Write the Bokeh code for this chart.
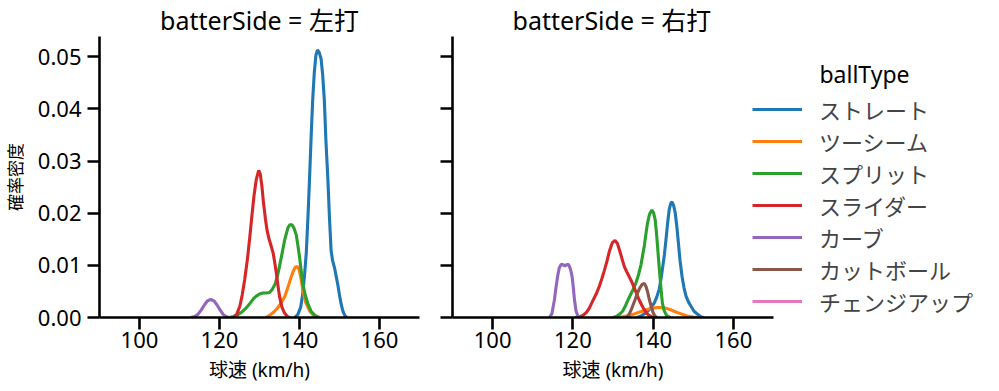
from bokeh.plotting import figure
from bokeh.layouts import row
from bokeh.models import Range1d, FixedTicker, PrintfTickFormatter, Legend, LegendItem, Label, LinearAxis
from bokeh.embed import file_html
from bokeh.resources import INLINE

FONT = "Noto Sans, Noto Sans CJK JP"

ball_types = ["ストレート", "ツーシーム", "スプリット", "スライダー", "カーブ", "カットボール", "チェンジアップ"]
colors = ["#1f77b4", "#ff7f0e", "#2ca02c", "#d62728", "#9467bd", "#8c564b", "#e377c2"]
panel_titles = ["batterSide = 左打", "batterSide = 右打"]
legend_title = "ballType"
x_label = "球速 (km/h)"
y_label = "確率密度"
x_ticks = [100, 120, 140, 160]
y_ticks = [0.0, 0.01, 0.02, 0.03, 0.04, 0.05]

# ---- 左打 panel (speed km/h, density) ----
L_straight_v = [138.8, 139.6, 140.3, 140.8, 141.3, 141.7, 142.1, 142.5, 142.9, 143.3, 143.7, 144.1, 144.5, 144.9, 145.4, 145.8, 146.2, 146.6, 147.1, 147.5, 147.9, 148.3, 148.8, 149.2, 149.6, 150.0, 150.4, 150.9, 151.4, 151.9]
L_straight_d = [0.0, 0.0006, 0.0020, 0.0045, 0.0085, 0.0125, 0.019, 0.0264, 0.0345, 0.0418, 0.047, 0.0503, 0.0513, 0.0509, 0.0496, 0.0465, 0.0418, 0.034, 0.0264, 0.019, 0.0128, 0.0108, 0.0094, 0.0078, 0.0062, 0.0043, 0.0026, 0.0011, 0.0003, 0.0]

L_two_v = [131.5, 132.5, 133.5, 134.5, 135.4, 136.3, 137.1, 137.8, 138.4, 138.9, 139.4, 139.9, 140.4, 140.8, 141.5, 142.5, 143.5, 145.0]
L_two_d = [0.0, 0.0004, 0.001, 0.0018, 0.0028, 0.0040, 0.0058, 0.0075, 0.0088, 0.0096, 0.0098, 0.0092, 0.0074, 0.0054, 0.0030, 0.0013, 0.0004, 0.0]

L_split_v = [122.5, 123.5, 124.5, 125.5, 126.5, 127.6, 128.5, 129.2, 130.0, 130.9, 131.7, 132.5, 133.2, 133.9, 134.5, 135.0, 135.7, 136.3, 137.1, 137.6, 138.1, 138.6, 139.2, 139.6, 140.0, 140.4, 140.8, 141.4, 142.1, 142.9, 143.7, 144.5, 145.0]
L_split_d = [0.0, 0.0002, 0.0005, 0.001, 0.0017, 0.0027, 0.0036, 0.0041, 0.0045, 0.0047, 0.0047, 0.0048, 0.0054, 0.0064, 0.008, 0.0098, 0.0125, 0.0149, 0.0172, 0.0178, 0.0178, 0.0172, 0.0158, 0.0138, 0.0117, 0.0091, 0.0066, 0.0044, 0.0026, 0.0012, 0.0005, 0.0001, 0.0]

L_slider_v = [123.5, 124.3, 125.1, 125.7, 126.3, 127.0, 127.6, 128.1, 128.6, 129.2, 129.8, 130.2, 130.6, 131.0, 131.5, 131.9, 132.3, 132.8, 133.4, 133.8, 134.2, 134.6, 135.0, 135.6, 136.3, 137.1, 137.8]
L_slider_d = [0.0, 0.0006, 0.0022, 0.0044, 0.0073, 0.0113, 0.0156, 0.0195, 0.0232, 0.0265, 0.0282, 0.0275, 0.0252, 0.022, 0.0188, 0.0167, 0.0153, 0.014, 0.0124, 0.0106, 0.0086, 0.0062, 0.0041, 0.002, 0.0008, 0.0001, 0.0]

L_curve_v = [112.8, 113.8, 114.6, 115.5, 116.3, 117.0, 117.8, 118.6, 119.3, 120.1, 120.9, 121.6, 122.4]
L_curve_d = [0.0, 0.0002, 0.0006, 0.0015, 0.0025, 0.0032, 0.00345, 0.0032, 0.0025, 0.0015, 0.0006, 0.0002, 0.0]

# ---- 右打 panel ----
R_straight_v = [136.0, 137.0, 138.2, 139.3, 140.3, 140.9, 141.5, 141.9, 142.3, 142.8, 143.2, 143.6, 144.0, 144.4, 144.7, 145.1, 145.5, 145.9, 146.3, 146.7, 147.2, 147.7, 148.2, 148.8, 149.4, 150.2, 151.1, 152.0, 152.6]
R_straight_d = [0.0, 0.0003, 0.0009, 0.0017, 0.0028, 0.0039, 0.0054, 0.0071, 0.0092, 0.0120, 0.0149, 0.0180, 0.0207, 0.0219, 0.0222, 0.0215, 0.0201, 0.0175, 0.0143, 0.0110, 0.0079, 0.0057, 0.0041, 0.003, 0.0022, 0.0012, 0.0006, 0.0001, 0.0]

R_two_v = [130.5, 132.0, 133.5, 135.0, 136.5, 138.0, 139.5, 141.0, 142.5, 144.0, 145.5, 147.0, 148.5, 150.0, 151.0]
R_two_d = [0.0, 0.0001, 0.0003, 0.0006, 0.001, 0.0014, 0.0018, 0.0019, 0.0019, 0.0016, 0.0011, 0.0007, 0.0003, 0.0001, 0.0]

R_split_v = [130.0, 130.8, 131.6, 132.4, 133.2, 134.0, 134.9, 135.7, 136.4, 137.0, 137.4, 137.8, 138.2, 138.6, 139.1, 139.7, 140.1, 140.5, 140.8, 141.1, 141.4, 141.7, 142.0, 142.3, 142.7, 143.2, 143.7, 144.3]
R_split_d = [0.0, 0.0002, 0.0006, 0.0012, 0.0024, 0.0038, 0.0052, 0.0066, 0.0083, 0.0102, 0.012, 0.0137, 0.0160, 0.0181, 0.0198, 0.0206, 0.0201, 0.0188, 0.0165, 0.0137, 0.0107, 0.0079, 0.0052, 0.0028, 0.0014, 0.0006, 0.0002, 0.0]

R_slider_v = [120.5, 121.5, 122.5, 123.3, 124.1, 124.9, 125.8, 126.6, 127.2, 127.8, 128.5, 129.1, 129.8, 130.5, 131.1, 131.6, 132.2, 132.8, 133.4, 134.0, 134.7, 135.3, 135.9, 136.5, 137.2, 137.8, 138.4, 139.0, 139.7, 140.4]
R_slider_d = [0.0, 0.0001, 0.0004, 0.0009, 0.0018, 0.0031, 0.0045, 0.006, 0.0074, 0.0089, 0.0108, 0.0127, 0.0143, 0.0148, 0.0142, 0.013, 0.0114, 0.0098, 0.0088, 0.0079, 0.0068, 0.0057, 0.0045, 0.0034, 0.0023, 0.0015, 0.0008, 0.0004, 0.0001, 0.0]

R_curve_v = [114.2, 114.8, 115.4, 115.8, 116.2, 116.6, 117.1, 117.6, 118.0, 118.4, 118.9, 119.4, 119.8, 120.1, 120.4, 120.8, 121.3, 121.8]
R_curve_d = [0.0, 0.0008, 0.0034, 0.0058, 0.0079, 0.0095, 0.0102, 0.0101, 0.0099, 0.0101, 0.0102, 0.0093, 0.0079, 0.0058, 0.0034, 0.0012, 0.0002, 0.0]

R_cut_v = [133.3, 134.0, 134.5, 134.9, 135.5, 136.1, 136.7, 137.3, 137.8, 138.2, 138.6, 139.0, 139.5, 140.0, 140.5, 141.0]
R_cut_d = [0.0, 0.0006, 0.0014, 0.0022, 0.0034, 0.0047, 0.0057, 0.0064, 0.0065, 0.006, 0.005, 0.0036, 0.0022, 0.0009, 0.0002, 0.0]

# チェンジアップ: too few pitches for a density curve (no line drawn)
R_change_v = [float("nan")]
R_change_d = [float("nan")]

left_series = [(L_straight_v, L_straight_d), (L_two_v, L_two_d), (L_split_v, L_split_d),
               (L_slider_v, L_slider_d), (L_curve_v, L_curve_d), ([], []), ([], [])]
right_series = [(R_straight_v, R_straight_d), (R_two_v, R_two_d), (R_split_v, R_split_d),
                (R_slider_v, R_slider_d), (R_curve_v, R_curve_d), (R_cut_v, R_cut_d),
                (R_change_v, R_change_d)]

X_MIN, X_MAX = 90, 170
Y_MAX = 0.0539
PX_PER_UNIT = 321 / (X_MAX - X_MIN)
R_FRAME_W = 532
R_X_END = X_MIN + R_FRAME_W / PX_PER_UNIT


def style(p, show_ylabels):
    p.title.text_font = FONT
    p.title.text_font_size = "25px"
    p.title.text_font_style = "normal"
    p.title.text_color = "black"
    p.title.standoff = 0
    p.grid.visible = False
    p.outline_line_color = None
    for ax in (p.xaxis[0], p.yaxis[0]):
        ax.axis_line_width = 2.6
        ax.axis_line_color = "black"
        ax.major_tick_line_width = 2.6
        ax.major_tick_line_color = "black"
        ax.major_tick_out = 12
        ax.major_tick_in = 0
        ax.minor_tick_out = 0
        ax.minor_tick_in = 0
        ax.major_label_text_font = FONT
        ax.major_label_text_font_size = "22px"
        ax.major_label_text_color = "black"
        ax.axis_label_text_font = FONT
        ax.axis_label_text_font_size = "17px"
        ax.axis_label_text_font_style = "normal"
        ax.axis_label_text_color = "black"
    p.xaxis.ticker = FixedTicker(ticks=x_ticks)
    p.yaxis.ticker = FixedTicker(ticks=y_ticks)
    p.yaxis.formatter = PrintfTickFormatter(format="%.2f")
    p.xaxis.major_label_standoff = 2
    p.yaxis.major_label_standoff = 6
    p.yaxis.axis_label_standoff = 8
    p.xaxis.bounds = (X_MIN, X_MAX)
    # x-axis title drawn as a centred label of an extra, line-less axis
    centre = (X_MIN + X_MAX) / 2
    lab_axis = LinearAxis(ticker=FixedTicker(ticks=[centre]),
                          major_label_overrides={centre: x_label},
                          axis_line_color=None, major_tick_line_color=None,
                          minor_tick_line_color=None, major_tick_out=0, major_tick_in=0,
                          major_label_standoff=6,
                          major_label_text_font=FONT, major_label_text_font_size="19px",
                          major_label_text_color="black")
    p.add_layout(lab_axis, "below")
    if show_ylabels:
        p.yaxis.axis_label = y_label
    else:
        # shared y axis: ticks only, labels not drawn
        p.yaxis.major_label_text_font_size = "1px"
        p.yaxis.major_label_text_color = None
        p.yaxis.major_label_standoff = 0


p1 = figure(frame_width=320, frame_height=281, x_range=Range1d(X_MIN, X_MAX), y_range=Range1d(0, Y_MAX),
            min_border_left=92, min_border_right=5, min_border_top=29, min_border_bottom=10,
            toolbar_location=None, output_backend="svg", title=panel_titles[0])
style(p1, True)
p1.title.align = "center"
for (v, d), c in zip(left_series, colors):
    if v:
        p1.line(v, d, line_color=c, line_width=3.1)

p2 = figure(frame_width=R_FRAME_W, frame_height=281, x_range=Range1d(X_MIN, R_X_END), y_range=p1.y_range,
            min_border_left=28, min_border_right=3, min_border_top=29, min_border_bottom=10,
            toolbar_location=None, output_backend="svg", title=panel_titles[1])
style(p2, False)
p2.title.align = "left"
p2.title.offset = 60
items = []
for (v, d), c, name in zip(right_series, colors, ball_types):
    r = p2.line(v, d, line_color=c, line_width=3.1)
    items.append(LegendItem(label=name, renderers=[r]))

legend = Legend(items=items, location=(300, 0))
legend.label_text_font = FONT
legend.label_text_font_size = "22px"
legend.glyph_width = 50
legend.glyph_height = 32
legend.label_height = 32
legend.label_standoff = 17
legend.spacing = 0
legend.padding = 0
legend.margin = 0
legend.border_line_color = None
legend.background_fill_alpha = 0
p2.add_layout(legend)

p2.add_layout(Label(x=X_MIN + 412 / PX_PER_UNIT, y=0.0468, text=legend_title,
                    text_align="center", text_baseline="middle",
                    text_font=FONT, text_font_size="23px", text_color="black"))

layout = row(p1, p2)
open("out.html", "w").write(file_html(layout, INLINE))
